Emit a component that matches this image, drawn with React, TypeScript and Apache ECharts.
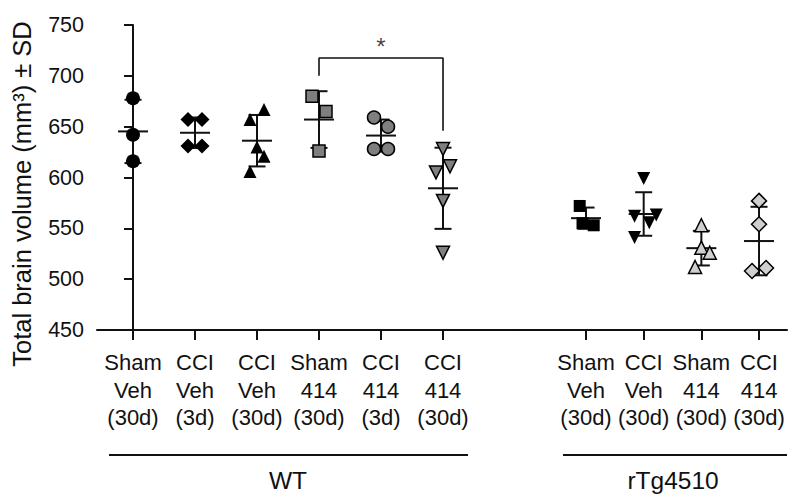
import React, { useEffect, useRef } from "react";
import * as echarts from "echarts";

// ---- categories (tick labels) ----
const wtCategories = [
  "Sham\nVeh\n(30d)",
  "CCI\nVeh\n(3d)",
  "CCI\nVeh\n(30d)",
  "Sham\n414\n(30d)",
  "CCI\n414\n(3d)",
  "CCI\n414\n(30d)",
];
const tgCategories = ["Sham\nVeh\n(30d)", "CCI\nVeh\n(30d)", "Sham\n414\n(30d)", "CCI\n414\n(30d)"];
const groupNames = ["WT", "rTg4510"];
const yTitle = "Total brain volume (mm\u00B3) \u00B1 SD";

// ---- individual animal values (mm³) ----
const wtShamVeh30 = [678, 642, 616];
const wtCciVeh3 = [657, 657, 631, 631];
const wtCciVeh30 = [667, 657, 630, 621, 606];
const wtSham414d30 = [680, 665, 626];
const wtCci414d3 = [659, 650, 628, 628];
const wtCci414d30 = [628, 611, 605, 577, 526];
const tgShamVeh30 = [572, 555, 553];
const tgCciVeh30 = [599, 563, 562, 555.5, 541];
const tgSham414d30 = [553, 531, 526, 512];
const tgCci414d30 = [577, 554, 508, 511];

// side-by-side slots of overlapping points
const wtShamVeh30Slots = [0, 0, 0];
const wtCciVeh3Slots = [-1, 1, -1, 1];
const wtCciVeh30Slots = [1, -1, 0, 1, -1];
const wtSham414d30Slots = [-1, 1, 0];
const wtCci414d3Slots = [-1, 1, -1, 1];
const wtCci414d30Slots = [0, 1, -1, 0, 0];
const tgShamVeh30Slots = [-0.9, -0.5, 1.1];
const tgCciVeh30Slots = [0, 1.8, -1.3, 0.8, -1.3];
const tgSham414d30Slots = [0, 0, 1.2, -0.9];
const tgCci414d30Slots = [0, 0, -1, 1];

// significance bracket (mm³ levels) between WT "Sham 414 (30d)" and "CCI 414 (30d)"
const bracketFrom = 3;
const bracketTo = 5;
const bracketLevels = [700, 717.5, 646];

const yTicks = { min: 450, max: 750, step: 50 };

const BLACK = "#000000";
const DARK = "#111111";
const GRAY = "#7f7f7f";
const LIGHT = "#cfcfcf";
const JIT = 7;
const FONT = "'Liberation Sans', Arial, Helvetica, sans-serif";

const wtGroups = [
  { values: wtShamVeh30, slots: wtShamVeh30Slots, symbol: "circle", size: 14, fill: BLACK, rotate: 0 },
  { values: wtCciVeh3, slots: wtCciVeh3Slots, symbol: "diamond", size: 15, fill: BLACK, rotate: 0 },
  { values: wtCciVeh30, slots: wtCciVeh30Slots, symbol: "triangle", size: 13, fill: BLACK, rotate: 0 },
  { values: wtSham414d30, slots: wtSham414d30Slots, symbol: "rect", size: 12, fill: GRAY, rotate: 0 },
  { values: wtCci414d3, slots: wtCci414d3Slots, symbol: "circle", size: 13, fill: GRAY, rotate: 0 },
  { values: wtCci414d30, slots: wtCci414d30Slots, symbol: "triangle", size: 13, fill: GRAY, rotate: 180 },
];
const tgGroups = [
  { values: tgShamVeh30, slots: tgShamVeh30Slots, symbol: "rect", size: 12, fill: BLACK, rotate: 0 },
  { values: tgCciVeh30, slots: tgCciVeh30Slots, symbol: "triangle", size: 13, fill: BLACK, rotate: 180 },
  { values: tgSham414d30, slots: tgSham414d30Slots, symbol: "triangle", size: 13, fill: LIGHT, rotate: 0 },
  { values: tgCci414d30, slots: tgCci414d30Slots, symbol: "diamond", size: 15, fill: LIGHT, rotate: 0 },
];

function stats(v: number[]) {
  const n = v.length;
  const m = v.reduce((a, b) => a + b, 0) / n;
  const sd = Math.sqrt(v.reduce((a, b) => a + (b - m) * (b - m), 0) / (n - 1));
  return [m, m - sd, m + sd];
}

function errorBarRender(params: any, api: any) {
  const x = api.value(0);
  const pm = api.coord([x, api.value(1)]);
  const plo = api.coord([x, api.value(2)]);
  const phi = api.coord([x, api.value(3)]);
  const s = { stroke: DARK, lineWidth: 2 };
  const cx = pm[0];
  return {
    type: "group",
    children: [
      { type: "line", shape: { x1: cx, y1: phi[1], x2: cx, y2: plo[1] }, style: s },
      { type: "line", shape: { x1: cx - 8.5, y1: phi[1], x2: cx + 8.5, y2: phi[1] }, style: s },
      { type: "line", shape: { x1: cx - 8.5, y1: plo[1], x2: cx + 8.5, y2: plo[1] }, style: s },
      { type: "line", shape: { x1: cx - 15, y1: pm[1], x2: cx + 15, y2: pm[1] }, style: s },
    ],
  };
}

function buildSeries(groups: any[], gi: number) {
  const out: any[] = [];
  out.push({
    type: "custom",
    xAxisIndex: gi,
    yAxisIndex: gi,
    renderItem: errorBarRender,
    encode: { x: 0, y: [1, 2, 3] },
    data: groups.map((g, i) => [i, ...stats(g.values)]),
    z: 2,
    silent: true,
  });
  groups.forEach((g, i) => {
    out.push({
      type: "scatter",
      xAxisIndex: gi,
      yAxisIndex: gi,
      symbol: g.symbol,
      symbolSize: g.size,
      symbolRotate: g.rotate,
      itemStyle: {
        color: g.fill,
        borderColor: BLACK,
        borderWidth: g.fill === BLACK ? 0 : 1.5,
        opacity: 1,
      },
      data: g.values.map((v: number, k: number) => ({
        value: [i, v],
        symbolOffset: [g.slots[k] * JIT, 0],
      })),
      z: 3,
      silent: true,
    });
  });
  return out;
}

export default function App() {
  const ref = useRef<HTMLDivElement>(null);
  useEffect(() => {
    if (!ref.current) return;
    const chart = echarts.init(ref.current, null, { renderer: "svg" });
    const xCommon = (cats: string[], min: number, max: number, gi: number) => ({
      type: "value",
      gridIndex: gi,
      min,
      max,
      splitLine: { show: false },
      axisLine: { show: true, onZero: false, lineStyle: { color: DARK, width: 2 } },
      axisTick: {
        show: true,
        length: 10,
        lineStyle: { color: DARK, width: 2 },
        customValues: cats.map((_, i) => i),
      },
      axisLabel: {
        color: DARK,
        fontSize: 22,
        fontFamily: FONT,
        lineHeight: 27.5,
        margin: 19,
        align: "center",
        customValues: cats.map((_, i) => i),
        formatter: (v: number) => cats[Math.round(v)] ?? "",
      },
    });
    const yCommon = (gi: number, show: boolean) => ({
      type: "value",
      gridIndex: gi,
      min: yTicks.min,
      max: yTicks.max,
      interval: yTicks.step,
      show,
      splitLine: { show: false },
      axisLine: { show: true, lineStyle: { color: DARK, width: 2 } },
      axisTick: { show: true, length: 9, lineStyle: { color: DARK, width: 2 } },
      axisLabel: { color: DARK, fontSize: 21.5, fontFamily: FONT, margin: 13 },
    });

    const option: any = {
      animation: false,
      backgroundColor: "#ffffff",
      textStyle: { fontFamily: FONT },
      grid: [
        { left: 97, top: 25, width: 417, height: 305 },
        { left: 514, top: 25, width: 273, height: 305 },
      ],
      xAxis: [xCommon(wtCategories, -0.5806, 6.145, 0), xCommon(tgCategories, -1.2486, 3.485, 1)],
      yAxis: [yCommon(0, true), yCommon(1, false)],
      series: [
        ...buildSeries(wtGroups, 0),
        ...buildSeries(tgGroups, 1),
        {
          type: "line",
          xAxisIndex: 0,
          yAxisIndex: 0,
          symbol: "none",
          silent: true,
          lineStyle: { color: DARK, width: 1.6 },
          data: [
            [bracketFrom, bracketLevels[0]],
            [bracketFrom, bracketLevels[1]],
            [bracketTo, bracketLevels[1]],
            [bracketTo, bracketLevels[2]],
          ],
          z: 4,
        },
        {
          type: "scatter",
          xAxisIndex: 0,
          yAxisIndex: 0,
          symbolSize: 0,
          silent: true,
          label: {
            show: true,
            position: "top",
            distance: 0,
            formatter: "*",
            color: DARK,
            fontSize: 24,
            fontFamily: FONT,
          },
          data: [[(bracketFrom + bracketTo) / 2, bracketLevels[1]]],
          z: 4,
        },
      ],
      graphic: [
        {
          type: "text",
          x: 22,
          y: 194,
          rotation: Math.PI / 2,
          style: {
            text: yTitle,
            fontSize: 25.5,
            fontFamily: FONT,
            fill: DARK,
            align: "center",
            verticalAlign: "middle",
          },
        },
        { type: "line", shape: { x1: 109, y1: 455, x2: 468, y2: 455 }, style: { stroke: DARK, lineWidth: 2 } },
        {
          type: "text",
          x: 288,
          y: 480,
          style: { text: groupNames[0], fontSize: 24.5, fontFamily: FONT, fill: DARK, align: "center", verticalAlign: "middle" },
        },
        { type: "line", shape: { x1: 563, y1: 455, x2: 787, y2: 455 }, style: { stroke: DARK, lineWidth: 2 } },
        {
          type: "text",
          x: 673,
          y: 480,
          style: { text: groupNames[1], fontSize: 24.5, fontFamily: FONT, fill: DARK, align: "center", verticalAlign: "middle" },
        },
      ],
    };
    chart.setOption(option);
    return () => chart.dispose();
  }, []);
  return <div ref={ref} style={{ position: "fixed", left: 0, top: 0, width: 797, height: 496 }} />;
}
